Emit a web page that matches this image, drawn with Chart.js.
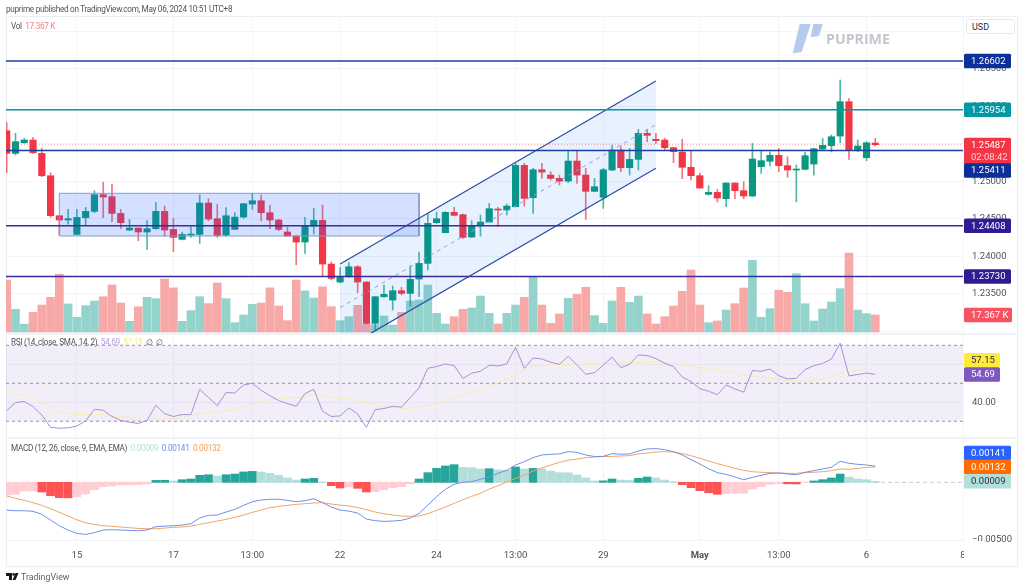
<!DOCTYPE html>
<html>
<head>
<meta charset="utf-8">
<title>GBPUSD 4H</title>
<script src="https://cdn.jsdelivr.net/npm/chart.js@4"></script>
<style>
  html, body { margin: 0; padding: 0; background: #fff; width: 1024px; height: 588px; overflow: hidden; }
  body { font-family: Roboto, "Liberation Sans", sans-serif; color: #50535e; }
  canvas { position: absolute; left: 0; top: 0; }
  .abs { position: absolute; white-space: nowrap; }
  .frame { left: 6px; top: 16px; width: 1010px; height: 549px; border: 1px solid #eceef3; }
  .sep { left: 6px; width: 1011px; height: 2px; background: #f0f2f7; }
  .legend { font-size: 8.2px; letter-spacing: -0.3px; line-height: 10px; }
  .usd { left: 966px; top: 19px; width: 49px; height: 15px; line-height: 15px; padding-left: 5px; box-sizing: border-box;
         border: 1px solid #e6e8ee; border-radius: 3px; background: #fff; font-size: 9px; color: #2a2e39; }
</style>
</head>
<body>
<div class="abs frame"></div>
<div class="abs sep" style="top:333px"></div>
<div class="abs sep" style="top:437px"></div>
<canvas id="main-chart" width="1024" height="588"></canvas>
<canvas id="rsi-chart" width="1024" height="588"></canvas>
<canvas id="macd-chart" width="1024" height="588"></canvas>
<div class="abs" style="left:963.5px;top:541px;width:20px;height:24px;background:#fff"></div>

<div class="abs legend" style="left:6px;top:4px">puprime published on TradingView.com, May 06, 2024 10:51 UTC+8</div>
<div class="abs legend" style="left:11px;top:21px">Vol &nbsp;<span style="color:#ef7f86">17.367 K</span></div>
<div class="abs legend" style="left:11px;top:337px">RSI (14, close, SMA, 14, 2) &nbsp;<span style="color:#b39ddb">54.69</span> &nbsp;<span style="color:#f7e98e">57.15</span> &nbsp;∅ &nbsp;∅</div>
<div class="abs legend" style="left:11px;top:443px">MACD (12, 26, close, 9, EMA, EMA) &nbsp;<span style="color:#b2dfdb">0.00009</span> &nbsp;<span style="color:#6d8cf0">0.00141</span> &nbsp;<span style="color:#f5a056">0.00132</span></div>
<div class="abs usd">USD</div>

<svg class="abs" style="left:790px;top:22px" width="36" height="34">
  <polygon points="9.7,2 20.7,2 11.7,30 2.7,31.3" fill="#b4cbee"/>
  <polygon points="23.3,2 32.7,2 29,14 20.7,15.3" fill="#b4cbee"/>
</svg>
<div class="abs" style="left:826px;top:29px;font:bold 14.2px 'Open Sans',sans-serif;color:#c3c6cd">PUPRIME</div>

<svg class="abs" style="left:6px;top:573px" width="13" height="8">
  <polygon points="0,0 6,0 6,7 3,7 3,3 0,3" fill="#131722"/>
  <circle cx="7.6" cy="1.4" r="1.3" fill="#131722"/>
  <polygon points="9.5,0 12.5,0 9.5,7 6.5,7" fill="#131722"/>
</svg>
<div class="abs legend" style="left:21px;top:572px;font-size:8.8px;letter-spacing:0;color:#5d606b">TradingView</div>

<script>
// ── Data ──
// candles, oldest first (4H bars, 15 Apr - 6 May)
const opens = [1.25673,1.25371,1.25513,1.25549,1.25371,1.25073,1.24540,1.24483,1.24291,1.24514,
  1.24598,1.24820,1.24794,1.24571,1.24349,1.24376,1.24323,1.24367,1.24598,1.24358,
  1.24225,1.24283,1.24291,1.24709,1.24500,1.24283,1.24358,1.24522,1.24696,1.24740,
  1.24580,1.24483,1.24323,1.24269,1.24189,1.24403,1.24478,1.23896,1.23656,1.23727,
  1.23860,1.23656,1.23105,1.23461,1.23416,1.23541,1.23505,1.23696,1.23905,1.24447,
  1.24314,1.24585,1.24554,1.24256,1.24411,1.24456,1.24629,1.24616,1.24660,1.25211,
  1.24780,1.25153,1.25082,1.25038,1.25002,1.25269,1.25082,1.24865,1.24785,1.25149,
  1.25416,1.25180,1.25291,1.25638,1.25558,1.25549,1.25447,1.25389,1.25185,1.25074,
  1.24825,1.24851,1.24767,1.24976,1.24874,1.24803,1.25194,1.25265,1.25345,1.25207,
  1.25149,1.25158,1.25229,1.25429,1.25473,1.25602,1.26060,1.25416,1.25313,1.25509];
const highs = [1.25780,1.25638,1.25571,1.25584,1.25438,1.25113,1.24540,1.24625,1.24625,1.24651,
  1.24873,1.24985,1.24958,1.24625,1.24491,1.24376,1.24474,1.24718,1.24669,1.24505,
  1.24323,1.24394,1.24820,1.24767,1.24691,1.24647,1.24580,1.24705,1.24838,1.24816,
  1.24678,1.24491,1.24385,1.24269,1.24518,1.24638,1.24682,1.23927,1.23851,1.23914,
  1.23874,1.23660,1.23461,1.23616,1.23603,1.23585,1.23874,1.24056,1.24562,1.24585,
  1.24594,1.24651,1.24562,1.24474,1.24549,1.24705,1.24651,1.24696,1.25238,1.25238,
  1.25171,1.25238,1.25127,1.25082,1.25407,1.25407,1.25171,1.25038,1.25171,1.25482,
  1.25460,1.25438,1.25691,1.25691,1.25638,1.25571,1.25451,1.25558,1.25402,1.25105,
  1.24940,1.24891,1.24980,1.24980,1.24994,1.25505,1.25407,1.25393,1.25438,1.25327,
  1.25216,1.25385,1.25438,1.25571,1.25616,1.26349,1.26104,1.25549,1.25527,1.25571];
const lows = [1.25113,1.25349,1.25504,1.25371,1.25060,1.24518,1.24283,1.24429,1.24283,1.24416,
  1.24580,1.24514,1.24460,1.24371,1.24340,1.24207,1.24092,1.24358,1.24269,1.24060,
  1.24216,1.24251,1.24171,1.24474,1.24251,1.24269,1.24358,1.24505,1.24625,1.24474,
  1.24367,1.24340,1.24269,1.23887,1.24038,1.24296,1.23736,1.23683,1.23647,1.23718,
  1.23514,1.23096,1.23007,1.23452,1.23283,1.23483,1.23336,1.23461,1.23816,1.24438,
  1.24314,1.24536,1.24238,1.24251,1.24269,1.24456,1.24394,1.24549,1.24660,1.24669,
  1.24571,1.25038,1.25016,1.24949,1.24980,1.24971,1.24491,1.24860,1.24638,1.25140,
  1.25127,1.25082,1.25149,1.25527,1.25504,1.25416,1.25247,1.25034,1.25016,1.24905,
  1.24816,1.24723,1.24660,1.24767,1.24767,1.24794,1.25105,1.25202,1.25127,1.25051,
  1.24723,1.25149,1.25082,1.25416,1.25393,1.25513,1.25291,1.25393,1.25273,1.25469];
const closes = [1.25371,1.25527,1.25549,1.25380,1.25073,1.24540,1.24483,1.24500,1.24518,1.24598,
  1.24820,1.24789,1.24571,1.24447,1.24376,1.24323,1.24367,1.24598,1.24349,1.24251,
  1.24291,1.24291,1.24709,1.24496,1.24278,1.24540,1.24522,1.24700,1.24740,1.24580,
  1.24483,1.24358,1.24269,1.24189,1.24407,1.24478,1.23896,1.23705,1.23727,1.23860,
  1.23656,1.23105,1.23461,1.23492,1.23541,1.23505,1.23692,1.23905,1.24438,1.24500,
  1.24585,1.24545,1.24251,1.24411,1.24456,1.24634,1.24616,1.24669,1.25211,1.24771,
  1.25153,1.25122,1.25038,1.25002,1.25269,1.25082,1.24865,1.24927,1.25153,1.25416,
  1.25180,1.25291,1.25638,1.25611,1.25540,1.25447,1.25393,1.25185,1.25074,1.24909,
  1.24851,1.24776,1.24976,1.24874,1.24803,1.25296,1.25274,1.25345,1.25207,1.25149,
  1.25162,1.25340,1.25433,1.25478,1.25593,1.26060,1.25416,1.25469,1.25513,1.25487];
// volume in thousands
const volumes = [53,23.1,8,20,27.5,35.4,59,28.6,15,26.9,31.6,36,48,29.6,10.9,25.8,35.4,34,54,45,
  10.9,21.8,36,29,50,34,9.5,17.3,28.2,29.6,45,26.5,11.6,53,42,34.7,46,25.8,11.6,15.6,
  27.2,8.2,7.5,16.3,7.1,20,31.6,32.6,47.9,19,8.2,15.6,23.1,24.5,36.7,19,8.2,19,27.5,35.4,
  55.8,27.5,8.8,18.4,34.3,38.4,45.6,16.7,8.8,31.6,45.6,30.3,36.7,18.4,8.2,15.6,26.5,41.5,63.2,27.5,
  9.5,11.2,22.4,28.9,44.9,73.1,15,23.8,42.5,40.5,59.5,28.9,11.2,23.5,30.6,44.2,80.6,22.4,18.7,17.367];
const rsiValues = [35.6,39.8,40.4,37.7,33.3,26.8,26.3,26.5,27.5,30.2,36.3,35.8,32.5,30.5,29.5,28.8,30.4,38.4,34,32.5,
  33.5,33.5,46.8,42.5,38.2,45.1,44.9,49.1,50,46.3,43.5,40.9,39.3,37.9,44.6,46.8,35.3,32.5,32.8,37,
  33.9,26.8,36.1,36.7,37.9,37.4,42.5,47.5,57.9,58.8,60.2,59.3,52.5,55.3,56.3,59.5,59.1,60.2,68.9,57.9,
  63.3,62.8,61.1,60,64.2,59.6,54.7,55.6,59.6,63.7,58.2,60,64.9,64.6,63,60.5,58.8,53.3,50.9,47.2,
  45.8,44,49.1,47,45.3,56.7,56.3,57.5,54,52.3,52.6,57.2,59.3,60.4,62.8,71.1,53.9,54.6,55.4,54.69];
const rsiMa = [46.5,44.7,43.5,41.9,40.2,37.7,35.1,34,33.5,33.5,33.5,33.7,33,32.5,31.8,31.1,30.9,31.1,31.1,31.4,
  31.9,32.8,33.9,34.7,34.9,35.6,36.3,37.7,39.1,40.2,41.2,41.8,42.1,42.5,43.3,44.2,43.3,42.6,42.1,41.8,
  40.9,39.8,38.4,37.7,37.2,36.8,36.8,37.4,38.2,39.3,40.9,42.5,43.9,44.9,46.3,48.2,50.4,52.3,54.2,57,
  58.8,59.6,59.8,60,60,60,60,60,60.2,60.5,60.7,60.9,60.9,61.1,61.1,60.7,60.5,60,59.1,58.2,
  57.5,56.8,56.1,55.3,54.4,53.7,53.2,52.6,52.1,51.6,51.2,51.2,51.4,52.1,53.3,55.6,56.1,56.8,57.4,57.15];
// MACD panel, in units of 0.00001
const macdHist = [-110,-104,-75,-74,-84,-116,-133,-134,-124,-101,-64,-38,-32,-23,-22,-20,-14,17,18,12,
  23,29,61,66,55,66,72,90,95,90,78,61,38,20,29,35,3,-29,-49,-40,
  -52,-84,-81,-64,-46,-38,-12,29,84,121,142,153,130,127,116,118,107,106,133,116,
  121,116,98,84,83,64,38,12,13,29,20,17,35,46,38,20,6,-20,-46,-72,
  -90,-104,-98,-95,-94,-58,-38,-17,-12,-13,-14,-3,12,23,38,72,46,29,23,9];
const macdLine = [-240,-246,-246,-251,-277,-327,-376,-413,-442,-451,-436,-413,-410,-413,-416,-419,-413,-384,-379,-376,
  -370,-358,-309,-286,-283,-257,-234,-199,-168,-153,-147,-147,-156,-168,-159,-142,-176,-214,-240,-249,
  -266,-318,-332,-338,-335,-329,-309,-269,-197,-124,-61,-17,0,6,26,49,78,104,150,179,
  214,237,243,246,266,260,237,223,225,249,243,246,272,289,292,283,266,237,197,159,
  118,84,69,46,23,43,61,78,81,72,66,87,101,116,130,182,165,156,150,141];
const macdSignal = [-118,-139,-156,-176,-199,-228,-260,-292,-324,-350,-364,-376,-381,-387,-393,-399,-402,-402,-396,-390,
  -387,-379,-364,-350,-335,-321,-303,-283,-260,-240,-220,-208,-199,-191,-185,-179,-176,-188,-197,-205,
  -217,-237,-257,-272,-283,-292,-295,-292,-272,-243,-214,-182,-150,-121,-95,-58,-29,3,35,64,
  98,124,150,173,191,202,214,220,223,225,228,231,246,254,263,266,263,249,231,208,
  185,162,142,121,104,92,87,84,81,78,78,84,87,92,101,116,113,121,130,132];

// time axis: bar index of each label
const timeTicks = [8,19,28,38,49,58,68,79,88,98,109];
const timeLabels = ['15','17','13:00','22','24','13:00','29','May','13:00','6','8'];
const priceTicks = [1.27,1.265,1.26,1.255,1.25,1.245,1.24,1.235,1.23];
const rsiTicks = [60,40];
const rsiBands = [70,50,30];
const macdTicks = [-500];

// drawings on the price pane
const levelPrices = [1.26602,1.25954,1.25411,1.24408,1.2373];
const levelColors = ['#1c3f9e','#0097a7','#1c3f9e','#3a2c9a','#3a2c9a'];
const lastPrice = 1.25487;
const boxBars = [6,47];
const boxPrices = [1.24839,1.2427];
const channelBars = [38,74];
const channelUpper = [1.23896,1.26335];
const channelMiddle = [1.23316,1.25753];
const channelLower = [1.22737,1.25172];

const GREEN = '#089981', RED = '#f23645';
const XMIN = -0.08, XMAX = 109;

// ── Helpers ──
const isUp = i => closes[i] >= opens[i];
const indexed = arr => arr.map((y, x) => ({ x, y }));
const segment = (xs, ys) => xs.map((x, i) => ({ x, y: ys[i] }));
const flat = y => [{ x: XMIN, y }, { x: XMAX, y }];

function line(data, color, width, extra = {}) {
  return { type: 'line', data, borderColor: color, borderWidth: width, pointRadius: 0, tension: 0, fill: false, ...extra };
}

function bars(data, colors, thickness, extra = {}) {
  return { type: 'bar', data, backgroundColor: colors, barThickness: thickness, grouped: false, borderWidth: 0, borderSkipped: false, ...extra };
}

function timeAxis(showLabels) {
  return {
    type: 'linear', min: XMIN, max: XMAX, offset: false,
    afterBuildTicks: s => { s.ticks = timeTicks.map(value => ({ value })); },
    afterFit: s => { s.height = showLabels ? 25 : 0; },
    grid: { color: '#f3f4f8', drawTicks: false, offset: false },
    border: { display: false },
    ticks: {
      display: showLabels, autoSkip: false, maxRotation: 0, minRotation: 0, padding: 9, color: '#50535e',
      font: c => ({ family: 'Roboto', size: 9.5, weight: c.tick && c.tick.value === 79 ? 'bold' : 'normal' }),
      callback: v => timeLabels[timeTicks.indexOf(v)],
    },
  };
}

function valueAxis(min, max, tickList, format) {
  return {
    position: 'right', min, max,
    afterBuildTicks: s => { s.ticks = tickList.map(value => ({ value })); },
    afterFit: s => { s.width = 54; },
    grid: { color: '#f3f4f8', drawTicks: false },
    border: { display: false },
    ticks: { autoSkip: false, padding: 9, align: 'center', color: '#50535e', font: { family: 'Roboto', size: 9.5 }, callback: format },
  };
}

// price / indicator tags on the right axis
function tagPlugin(axisId, tags) {
  return {
    id: 'tags',
    afterDraw(chart) {
      const c = chart.ctx;
      c.save();
      c.font = '9.5px Roboto';
      c.textBaseline = 'middle';
      tags.forEach(t => {
        const scale = chart.scales[t.axis || axisId];
        const y = scale.getPixelForValue(t.value) + (t.dy || 0);
        const h = t.sub ? 26.5 : 14.5;
        const top = t.sub ? y - 7 : y - h / 2;
        c.fillStyle = t.bg;
        c.beginPath();
        c.roundRect(964, top, t.w || 47, h, 1.5);
        c.fill();
        c.fillStyle = t.fg || '#fff';
        c.fillText(t.text, 971, y + 0.5);
        if (t.sub) {
          c.fillStyle = '#fbd0d4';
          c.fillText(t.sub, 971, y + 12.5);
        }
      });
      c.restore();
    },
  };
}

function makeChart(id, datasets, scales, padding, plugin) {
  return new Chart(document.getElementById(id), {
    type: 'bar',
    data: { datasets },
    options: {
      responsive: false, animation: false,
      layout: { padding: { left: 6, right: 7, ...padding } },
      plugins: { legend: { display: false }, tooltip: { enabled: false } },
      events: [],
      scales,
    },
    plugins: [plugin],
  });
}

// ── Price pane ──
const candleColors = opens.map((_, i) => isUp(i) ? GREEN : RED);
const wickColors = opens.map((_, i) => isUp(i) ? 'rgba(8,153,129,0.7)' : 'rgba(242,54,69,0.7)');
const volumeColors = opens.map((_, i) => isUp(i) ? '#94d3cc' : '#f7a9a7');

makeChart('main-chart', [
  bars(indexed(volumes), volumeColors, 8, { yAxisID: 'vol', order: 9 }),
  bars(opens.map((_, i) => ({ x: i, y: [lows[i], highs[i]] })), wickColors, 1, { order: 8 }),
  bars(opens.map((_, i) => ({ x: i, y: [opens[i], closes[i]] })), candleColors, 6.5, { order: 7, minBarLength: 1 }),
  line(segment(boxBars, [boxPrices[0], boxPrices[0]]), 'rgba(0,0,0,0)', 0, { order: 6, fill: { target: { value: boxPrices[1] } }, backgroundColor: 'rgba(41,98,255,0.2)' }),
  line(segment([boxBars[0], boxBars[1], boxBars[1], boxBars[0], boxBars[0]], [boxPrices[0], boxPrices[0], boxPrices[1], boxPrices[1], boxPrices[0]]), '#8599cc', 1, { order: 5 }),
  line(segment(channelBars, channelUpper), '#2f4ea6', 1.3, { order: 4, fill: '+1', backgroundColor: 'rgba(33,120,243,0.1)' }),
  line(segment(channelBars, channelLower), '#2f4ea6', 1.3, { order: 4 }),
  line(segment(channelBars, channelMiddle), '#8fa8e6', 1, { order: 4, borderDash: [4, 4] }),
  line(flat(lastPrice), 'rgba(242,54,69,0.45)', 1, { order: 3, borderDash: [1, 2] }),
  ...levelPrices.map((p, i) => line(flat(p), levelColors[i], 1.5, { order: 2 })),
], {
  x: timeAxis(false),
  y: valueAxis(1.22977, 1.27202, priceTicks, v => (v === 1.27 || v === 1.23) ? '' : v.toFixed(5)),
  vol: { display: false, min: -1.02, max: 322.3 },
}, { top: 16, bottom: 255 }, tagPlugin('y', [
  { text: '1.26602', value: levelPrices[0], bg: '#0d2f9a' },
  { text: '1.25954', value: levelPrices[1], bg: '#0097a7' },
  { text: '1.25487', value: lastPrice, bg: RED, sub: '02:08:42' },
  { text: '1.25411', value: levelPrices[2], bg: '#0d2f9a', dy: 20 },
  { text: '1.24408', value: levelPrices[3], bg: '#311b92' },
  { text: '1.23730', value: levelPrices[4], bg: '#311b92' },
  { text: '17.367 K', value: 17.367, axis: 'vol', bg: '#f7525f', w: 48 },
]));

// ── RSI pane ──
makeChart('rsi-chart', [
  line(flat(rsiBands[0]), '#9598a1', 1, { order: 5, borderDash: [3, 3], fill: { target: { value: rsiBands[2] } }, backgroundColor: 'rgba(126,87,194,0.1)' }),
  line(flat(rsiBands[1]), '#9598a1', 1, { order: 5, borderDash: [3, 3] }),
  line(flat(rsiBands[2]), '#9598a1', 1, { order: 5, borderDash: [3, 3] }),
  line(indexed(rsiMa), '#f6ecb0', 1, { order: 2 }),
  line(indexed(rsiValues), '#a78fd6', 1, { order: 1 }),
], {
  x: timeAxis(false),
  y: valueAxis(21.7, 75.95, rsiTicks, v => v.toFixed(2)),
}, { top: 334, bottom: 151 }, tagPlugin('y', [
  { text: '57.15', value: rsiMa[99], bg: '#ffeb3b', fg: '#2a2e39', w: 36, dy: -9.4 },
  { text: '54.69', value: rsiValues[99], bg: '#7e57c2', w: 36, dy: 0.2 },
]));

// ── MACD pane ──
function histColor(i) {
  const v = macdHist[i], prev = i ? macdHist[i - 1] : v;
  if (v >= 0) return v > prev ? '#26a69a' : '#b2dfdb';
  return v < prev ? '#ff5252' : '#ffcdd2';
}

makeChart('macd-chart', [
  line(flat(0), '#c9cbd1', 1, { order: 5, borderDash: [4, 3] }),
  bars(indexed(macdHist), macdHist.map((_, i) => histColor(i)), 8, { order: 4 }),
  line(indexed(macdSignal), '#f0a468', 1, { order: 2 }),
  line(indexed(macdLine), '#6f8fe8', 1, { order: 1 }),
], {
  x: timeAxis(true),
  y: valueAxis(-508, 384, macdTicks, v => '\u2212' + (Math.abs(v) / 1e5).toFixed(5)),
}, { top: 438, bottom: 22 }, tagPlugin('y', [
  { text: '0.00141', value: 141, bg: '#2962ff', dy: -13 },
  { text: '0.00132', value: 132, bg: '#ff6d00' },
  { text: '0.00009', value: 9, bg: '#b2dfdb', fg: '#2a2e39' },
]));
</script>
</body>
</html>
